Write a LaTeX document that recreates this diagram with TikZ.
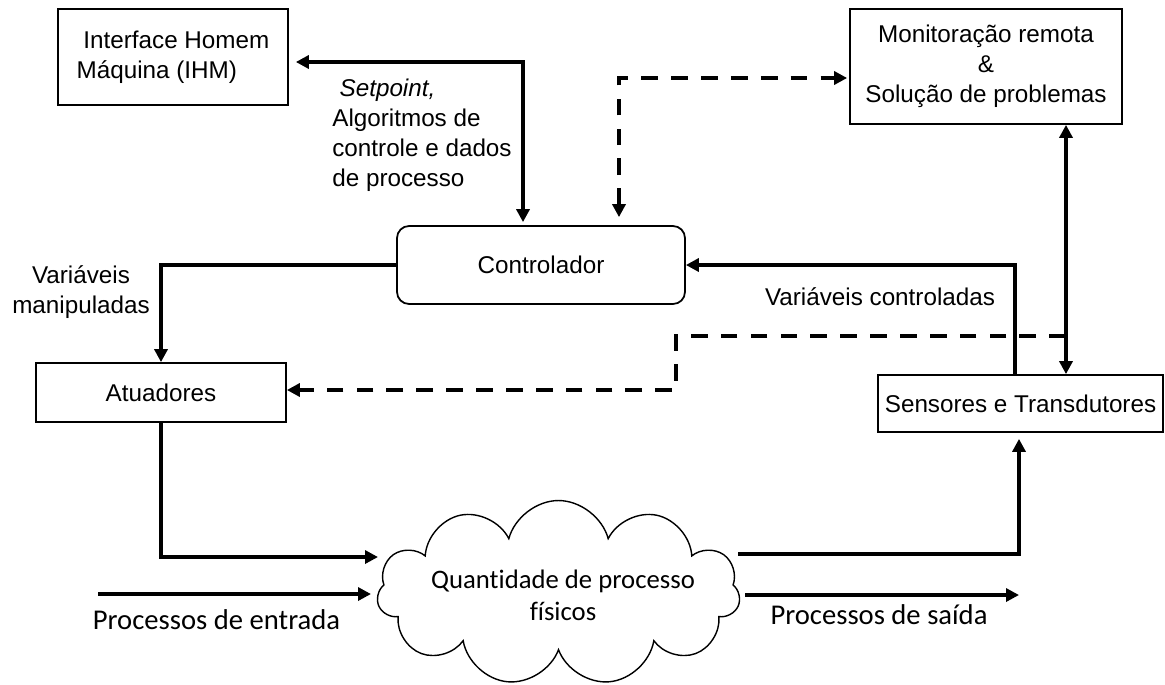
\documentclass[tikz,border=0pt]{standalone}
\usepackage{fontspec}
\setmainfont{Liberation Sans}
\newfontfamily\calib[Ligatures={NoCommon}]{Carlito}
\usepackage{tikz}
\usetikzlibrary{shapes.symbols, arrows.meta, positioning}
\tikzstyle{block} = [draw, fill=white, rectangle, line width=1pt, align=center, inner sep=0pt]
\tikzstyle{rblock} = [block, rounded corners=2.4mm]
\tikzstyle{flow} = [line width=2.2pt]
\tikzstyle{dflow} = [flow, dash pattern=on 9.5pt off 7.5pt]
\tikzstyle{lbl} = [align=center, inner sep=0pt]
\tikzstyle{clbl} = [lbl, font=\calib\fontsize{16.3}{19}\selectfont]

\begin{document}
\begin{tikzpicture}[x=0.02cm, y=-0.02cm, >={Triangle[length=2.6mm, width=2.6mm]},
  font=\fontsize{13.8}{17}\selectfont]
  \useasboundingbox (0,0) rectangle (1165,684);

  \node[block, minimum width=4.6cm, minimum height=1.92cm, align=left] (ihm) at (173,57) {\hspace*{0.278em}Interface Homem\\Máquina (IHM)};
  \node[block, minimum width=5.44cm, minimum height=2.3cm] (mon) at (986,66.5) {Monitoração remota\\\&\\Solução de problemas};
  \node[rblock, minimum width=5.76cm, minimum height=1.56cm] (ctrl) at (541,265) {Controlador};
  \node[block, minimum width=5cm, minimum height=1.18cm] (atu) at (161,392.5) {Atuadores};
  \node[block, minimum width=5.7cm, minimum height=1.14cm] (sens) at (1020.5,403.5) {Sensores e Transdutores};
  \node[draw, cloud, cloud puffs=11, cloud ignores aspect, line width=0.8pt,
    minimum width=7.26cm, minimum height=3.7cm] (qty) at (558.5,593) {};
  \node[lbl, font=\calib\fontsize{15.2}{18}\selectfont] (qtytxt) at (563,595) {Quantidade de processo\\físicos};

  \node[lbl, anchor=west, align=left] (setp) at (332,135) {\hspace*{0.3em}\textit{Setpoint,}\\Algoritmos de\\controle e dados\\de processo};
  \node[lbl] (manip) at (81,292) {Variáveis\\manipuladas};
  \node[lbl] (cvar) at (880,297) {Variáveis controladas};
  \node[clbl] (pentr) at (216.5,620) {Processos de entrada};
  \node[clbl] (psaida) at (879,615) {Processos de saída};

  \coordinate (dtap) at (1066,336);
  \coordinate (dstep) at (676,360);
  \coordinate (qin) at (378,557);
  \coordinate (pin) at (98,594);
  \coordinate (pinend) at (371,594);
  \coordinate (qout) at (738,554);
  \coordinate (pout) at (745,595);
  \coordinate (poutend) at (1019,595);

  \draw[flow, <->, shorten >=1.4mm, shorten <=0.6mm] ([xshift=-0.36cm]ctrl.north) |- ([yshift=-0.1cm]ihm.east);
  \draw[dflow, <->, shorten <=1.6mm, shorten >=0.4mm] ([xshift=1.56cm]ctrl.north) |- ([yshift=-0.23cm]mon.west);
  \draw[flow, <->] ([xshift=1.6cm]mon.south) -- ([xshift=1.6cm]mon.south |- sens.north);
  \draw[flow, ->] ([xshift=-0.11cm]sens.north) |- (ctrl.east);
  \draw[flow, ->] (ctrl.west) -| (atu.north);
  \draw[dflow, ->] (dtap) -| (dstep) |- ([yshift=0.05cm]atu.east);
  \draw[flow, ->] (atu.south) |- (qin);
  \draw[flow, ->] (pin) -- (pinend);
  \draw[flow, ->, shorten >=1.2mm] (qout) -| ([xshift=-0.03cm]sens.south);
  \draw[flow, ->] (pout) -- (poutend);

\end{tikzpicture}
\end{document}
